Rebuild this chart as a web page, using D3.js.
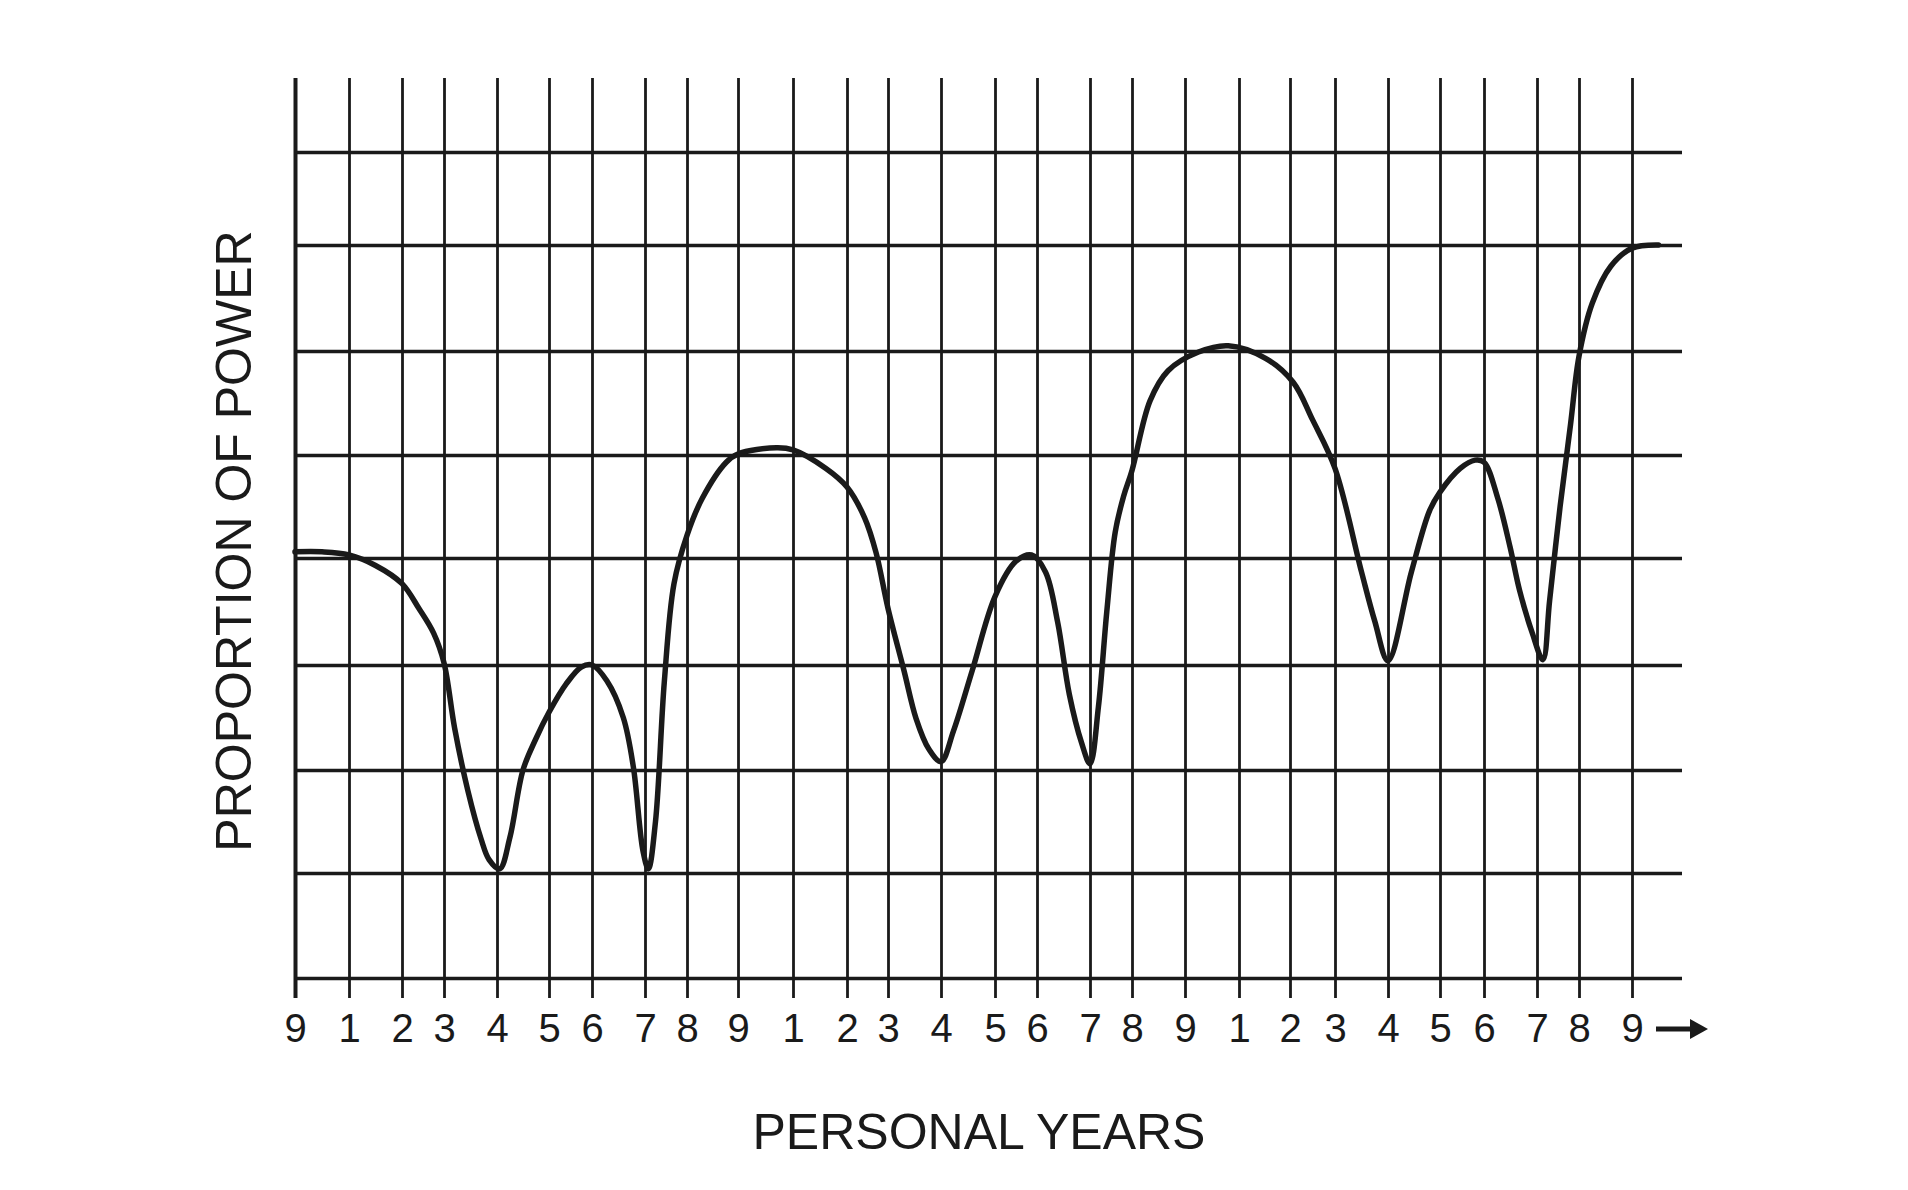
<!DOCTYPE html>
<html>
<head>
<meta charset="utf-8">
<script src="https://cdn.jsdelivr.net/npm/d3@7"></script>
<style>
  body { margin: 0; background: #fff; }
  svg { display: block; }
  text { font-family: "Liberation Sans", Arial, sans-serif; fill: #1a1a1a; }
</style>
</head>
<body>
<div id="chart"></div>
<script>
// Personal years along the bottom (one tick each)
const yearLabels = [9, 1, 2, 3, 4, 5, 6, 7, 8, 9, 1, 2, 3, 4, 5, 6, 7, 8, 9, 1, 2, 3, 4, 5, 6, 7, 8, 9];
// Horizontal grid levels
const levels = [0, 1, 2, 3, 4, 5, 6, 7, 8];
// The curve: position along the ticks / level of power
const curvePos = [0, 0.5, 1, 1.5, 2, 2.4, 2.75, 3, 3.2, 3.45, 3.7, 3.85, 4.05, 4.25, 4.5, 4.75, 5, 5.4, 5.75, 6,
  6.28, 6.59, 6.78, 6.96, 7.08, 7.25, 7.46, 7.69, 8, 8.3, 8.77, 9, 9.7, 10, 10.61, 11, 11.43, 11.71, 12,
  12.3, 12.53, 12.77, 13, 13.23, 13.58, 14, 14.5, 14.87, 15.16, 15.39, 15.61, 15.84, 16, 16.2, 16.4, 16.6,
  16.8, 17, 17.34, 17.68, 18.25, 18.8, 19.52, 20.07, 20.5, 21, 21.5, 21.75, 22, 22.45, 22.8, 23, 23.46, 23.8,
  24, 24.26, 24.49, 24.67, 24.91, 25.14, 25.3, 25.55, 25.8, 26, 26.25, 26.6, 27, 27.5];
const curveLevel = [4.06, 4.06, 4.03, 3.93, 3.76, 3.53, 3.3, 3.02, 2.4, 1.8, 1.33, 1.13, 1.04, 1.35, 2.0, 2.3, 2.55, 2.82, 2.98, 3.0,
  2.85, 2.5, 2.03, 1.22, 1.04, 1.5, 2.84, 3.76, 4.22, 4.58, 4.93, 5.01, 5.07, 5.05, 4.87, 4.69, 4.39, 4.05, 3.53,
  2.95, 2.49, 2.2, 2.08, 2.37, 2.95, 3.64, 3.97, 4.03, 3.87, 3.4, 2.72, 2.26, 2.06, 2.6, 3.5, 4.25,
  4.6, 4.85, 5.52, 5.81, 5.99, 6.05, 5.93, 5.7, 5.34, 4.87, 3.87, 3.41, 3.04, 3.87, 4.46, 4.64, 4.87, 4.95,
  4.93, 4.58, 4.11, 3.7, 3.3, 3.05, 3.6, 4.5, 5.3, 5.95, 6.45, 6.8, 6.97, 7.0];

// Layout (hand drawn grid, so the spacing is not even)
const width = 1908, height = 1190;
const tickPx = [295, 349, 402, 444, 497, 549, 592, 645, 687, 738, 793, 847, 888, 941, 995, 1037, 1090, 1132,
  1185, 1239, 1290, 1335, 1388, 1440, 1484, 1537, 1579, 1632];
const levelPx = [978, 873, 770, 665, 558, 455, 351, 245, 152];
const gridTop = 78, gridRight = 1682, tickBottom = 998;
const ink = "#1a1a1a";

const x = d3.scaleLinear().domain(d3.range(yearLabels.length)).range(tickPx);
const y = d3.scaleLinear().domain(levels).range(levelPx);

const svg = d3.select("#chart").append("svg")
  .attr("width", width)
  .attr("height", height);

// horizontal lines
const yAxis = svg.append("g")
  .attr("transform", `translate(${x(0)},0)`)
  .call(d3.axisLeft(y).tickValues(levels).tickSize(-(gridRight - x(0))).tickFormat(""));
yAxis.select(".domain").remove();
yAxis.selectAll(".tick line")
  .attr("stroke", ink)
  .attr("stroke-width", 3.6)
  .attr("x1", 2);

// vertical lines + year labels
const xAxis = svg.append("g")
  .attr("transform", `translate(0,${tickBottom})`)
  .call(d3.axisBottom(x)
    .tickValues(d3.range(yearLabels.length))
    .tickSize(-(tickBottom - gridTop))
    .tickPadding(16)
    .tickFormat(i => yearLabels[i]));
xAxis.select(".domain").remove();
xAxis.selectAll(".tick line")
  .attr("stroke", ink)
  .attr("stroke-width", (d, i) => i === 0 ? 4 : 2.8);
xAxis.selectAll(".tick text")
  .attr("font-size", 40)
  .style("font-family", "'Liberation Sans', Arial, sans-serif")
  .attr("fill", ink);

// arrow after the last year
const arrowY = tickBottom + 31;
const arrowX0 = x(yearLabels.length - 1) + 24;
svg.append("line")
  .attr("x1", arrowX0).attr("x2", arrowX0 + 38)
  .attr("y1", arrowY).attr("y2", arrowY)
  .attr("stroke", ink).attr("stroke-width", 5);
svg.append("path")
  .attr("d", `M${arrowX0 + 34},${arrowY - 10} L${arrowX0 + 52},${arrowY} L${arrowX0 + 34},${arrowY + 10} Z`)
  .attr("fill", ink);

// the curve
const line = d3.line()
  .x(d => x(d[0]))
  .y(d => y(d[1]))
  .curve(d3.curveCatmullRom.alpha(0.5));
svg.append("path")
  .datum(d3.zip(curvePos, curveLevel))
  .attr("d", line)
  .attr("fill", "none")
  .attr("stroke", ink)
  .attr("stroke-width", 5.5)
  .attr("stroke-linejoin", "round")
  .attr("stroke-linecap", "round");

// axis titles
svg.append("text")
  .attr("x", 979)
  .attr("y", 1149)
  .attr("text-anchor", "middle")
  .attr("font-size", 50)
  .text("PERSONAL YEARS");

svg.append("text")
  .attr("transform", "translate(251,541) rotate(-90)")
  .attr("text-anchor", "middle")
  .attr("font-size", 50)
  .text("PROPORTION OF POWER");
</script>
</body>
</html>
